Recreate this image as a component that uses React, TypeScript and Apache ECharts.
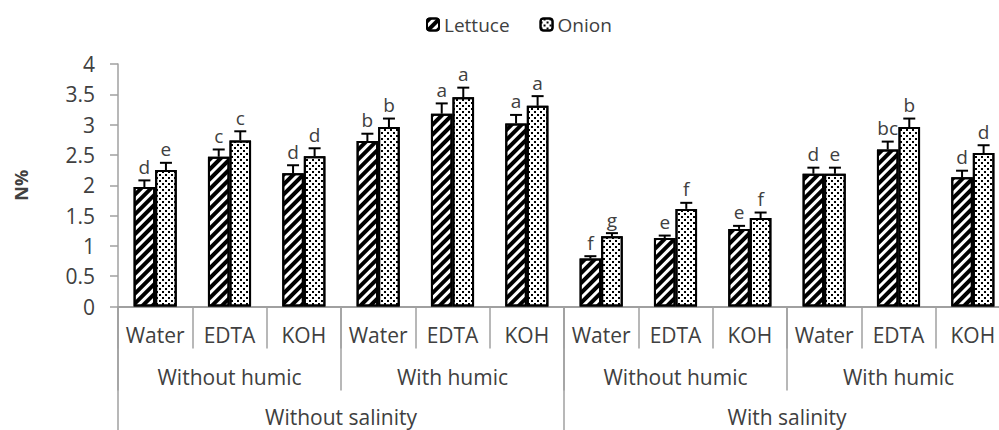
import React, { useEffect, useRef } from "react";
import * as echarts from "echarts";

const categories = ["Water", "EDTA", "KOH", "Water", "EDTA", "KOH", "Water", "EDTA", "KOH", "Water", "EDTA", "KOH"];
const humicGroups = ["Without humic", "With humic", "Without humic", "With humic"];
const salinityGroups = ["Without salinity", "With salinity"];
const seriesNames = ["Lettuce", "Onion"];

const lettuce = [1.97, 2.47, 2.2, 2.73, 3.18, 3.02, 0.79, 1.13, 1.28, 2.19, 2.59, 2.13];
const lettuceErr = [0.11, 0.12, 0.13, 0.12, 0.17, 0.14, 0.04, 0.04, 0.05, 0.1, 0.13, 0.11];
const lettuceLetters = ["d", "c", "d", "b", "a", "a", "f", "e", "e", "d", "bc", "d"];

const onion = [2.25, 2.74, 2.48, 2.96, 3.45, 3.31, 1.16, 1.61, 1.46, 2.19, 2.96, 2.53];
const onionErr = [0.12, 0.15, 0.13, 0.14, 0.16, 0.16, 0.05, 0.1, 0.09, 0.1, 0.14, 0.13];
const onionLetters = ["e", "c", "d", "b", "a", "a", "g", "f", "f", "e", "b", "d"];

const FONT = "Open Sans";
const TEXT = "#404040";
const AXIS = "#a0a0a0";
const BAR_RATIO = 0.29;

function errorSeries(values: number[], errs: number[], letters: string[], side: number) {
  return {
    type: "custom",
    xAxisIndex: 0,
    yAxisIndex: 0,
    z: 5,
    data: values.map((v, i) => [i, v, errs[i]]),
    encode: { x: 0, y: 1 },
    renderItem: (params: any, api: any) => {
      const i = api.value(0);
      const v = api.value(1);
      const e = api.value(2);
      const band = api.size([1, 0])[0];
      const off = (side * band * BAR_RATIO) / 2;
      const base = api.coord([i, v]);
      const top = api.coord([i, v + e]);
      const x = base[0] + off;
      return {
        type: "group",
        children: [
          { type: "line", shape: { x1: x, y1: base[1], x2: x, y2: top[1] }, style: { stroke: "#000", lineWidth: 2 } },
          { type: "line", shape: { x1: x - 6, y1: top[1], x2: x + 6, y2: top[1] }, style: { stroke: "#000", lineWidth: 2 } },
          {
            type: "text",
            style: {
              text: letters[params.dataIndex],
              x: x,
              y: top[1] - 4,
              align: "center",
              verticalAlign: "bottom",
              fontSize: 19,
              fontFamily: FONT,
              fill: TEXT,
            },
          },
        ],
      };
    },
  };
}

export default function App() {
  const ref = useRef<HTMLDivElement>(null);
  useEffect(() => {
    if (!ref.current) return;
    const chart = echarts.init(ref.current, null, { renderer: "svg" });
    const labelStyle = { fontFamily: FONT, fontSize: 21, color: TEXT };
    chart.setOption({
      animation: false,
      textStyle: { fontFamily: FONT },
      legend: {
        data: seriesNames,
        left: 421,
        top: 10,
        itemWidth: 12,
        itemHeight: 12,
        itemGap: 30,
        textStyle: { fontFamily: FONT, fontSize: 19, color: TEXT },
      },
      grid: { left: 118, right: 6, top: 64, bottom: 123.5, containLabel: false },
      xAxis: [
        {
          type: "category",
          data: categories,
          position: "bottom",
          axisLine: { show: true, lineStyle: { color: AXIS, width: 2 } },
          axisTick: { show: true, length: 42, interval: 0, alignWithLabel: false, lineStyle: { color: AXIS, width: 1.5 } },
          axisLabel: { ...labelStyle, interval: 0, margin: 18 },
        },
        {
          type: "category",
          data: humicGroups,
          position: "bottom",
          offset: 0,
          axisLine: { show: false, onZero: false },
          axisTick: { show: true, length: 84, interval: 0, lineStyle: { color: AXIS, width: 1.5 } },
          axisLabel: { ...labelStyle, interval: 0, margin: 60 },
        },
        {
          type: "category",
          data: salinityGroups,
          position: "bottom",
          offset: 0,
          axisLine: { show: false, onZero: false },
          axisTick: { show: true, length: 130, interval: 0, lineStyle: { color: AXIS, width: 1.5 } },
          axisLabel: { ...labelStyle, interval: 0, margin: 100 },
        },
      ],
      yAxis: {
        type: "value",
        min: 0,
        max: 4,
        interval: 0.5,
        name: "N%",
        nameLocation: "middle",
        nameRotate: 90,
        nameGap: 88,
        nameTextStyle: { fontFamily: FONT, fontSize: 18, fontWeight: "bold", color: TEXT },
        axisLine: { show: true, lineStyle: { color: AXIS, width: 1.5 } },
        axisTick: { show: true, length: 8, lineStyle: { color: AXIS, width: 1.5 } },
        splitLine: { show: false },
        axisLabel: { ...labelStyle, margin: 23 },
      },
      series: [
        {
          type: "bar",
          name: seriesNames[0],
          data: lettuce,
          barWidth: BAR_RATIO * 100 + "%",
          barGap: "0%",
          itemStyle: {
            color: "#fff",
            borderColor: "#000",
            borderWidth: 2,
            decal: {
              symbol: "rect",
              symbolSize: 1,
              color: "#000",
              backgroundColor: "#fff",
              dashArrayX: [1, 0],
              dashArrayY: [4, 3],
              rotation: -Math.PI / 4,
            },
          },
        },
        {
          type: "bar",
          name: seriesNames[1],
          data: onion,
          barWidth: BAR_RATIO * 100 + "%",
          barGap: "0%",
          itemStyle: {
            color: "#fff",
            borderColor: "#000",
            borderWidth: 2,
            decal: {
              symbol: "rect",
              symbolSize: 1,
              color: "#000",
              backgroundColor: "#fff",
              dashArrayX: [[2, 4], [0, 3, 2, 1]],
              dashArrayY: [2, 1],
              rotation: 0,
            },
          },
        },
        errorSeries(lettuce, lettuceErr, lettuceLetters, -1),
        errorSeries(onion, onionErr, onionLetters, 1),
      ],
    });
    return () => chart.dispose();
  }, []);
  return (
    <div style={{ position: "fixed", left: 0, top: 0, width: 999, height: 430, overflow: "hidden", background: "#fff" }}>
      <div ref={ref} style={{ width: 1016, height: 430 }} />
    </div>
  );
}
